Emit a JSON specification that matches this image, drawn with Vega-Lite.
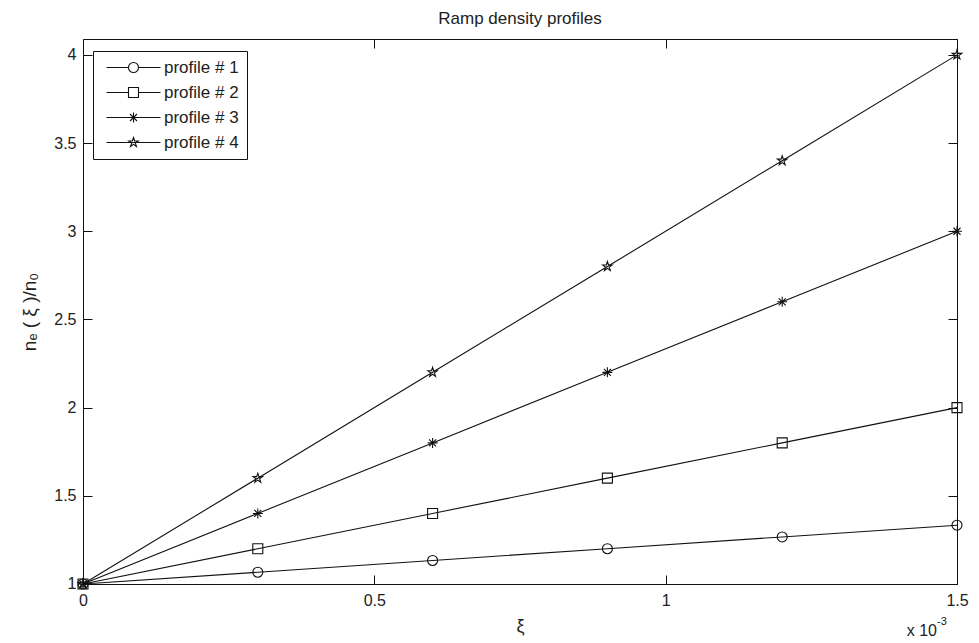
{
  "$schema": "https://vega.github.io/schema/vega-lite/v6.json",
  "autosize": "none",
  "width": 874,
  "height": 545,
  "padding": {"left": 83, "top": 39, "right": 22, "bottom": 59},
  "background": "white",
  "title": {
    "text": "Ramp density profiles",
    "fontSize": 17,
    "font": "Liberation Sans",
    "fontWeight": "normal",
    "color": "#222",
    "anchor": "middle",
    "offset": 11
  },
  "config": {
    "font": "Liberation Sans",
    "view": {"stroke": null},
    "axis": {
      "grid": false,
      "domainColor": "#111",
      "tickColor": "#111",
      "labelColor": "#222",
      "titleColor": "#222",
      "labelFont": "Liberation Sans",
      "titleFont": "Liberation Sans",
      "labelFontSize": 16,
      "titleFontSize": 17,
      "titleFontWeight": "normal",
      "tickSize": -9,
      "labelPadding": 8,
      "labelFlush": false,
      "labelOverlap": false,
      "labelBound": false
    }
  },
  "data": {
    "values": [
      {"profile": "profile # 1", "xi": 0.0, "n": 1.0},
      {"profile": "profile # 1", "xi": 0.3, "n": 1.0667},
      {"profile": "profile # 1", "xi": 0.6, "n": 1.1333},
      {"profile": "profile # 1", "xi": 0.9, "n": 1.2},
      {"profile": "profile # 1", "xi": 1.2, "n": 1.2667},
      {"profile": "profile # 1", "xi": 1.5, "n": 1.3333},
      {"profile": "profile # 2", "xi": 0.0, "n": 1.0},
      {"profile": "profile # 2", "xi": 0.3, "n": 1.2},
      {"profile": "profile # 2", "xi": 0.6, "n": 1.4},
      {"profile": "profile # 2", "xi": 0.9, "n": 1.6},
      {"profile": "profile # 2", "xi": 1.2, "n": 1.8},
      {"profile": "profile # 2", "xi": 1.5, "n": 2.0},
      {"profile": "profile # 3", "xi": 0.0, "n": 1.0},
      {"profile": "profile # 3", "xi": 0.3, "n": 1.4},
      {"profile": "profile # 3", "xi": 0.6, "n": 1.8},
      {"profile": "profile # 3", "xi": 0.9, "n": 2.2},
      {"profile": "profile # 3", "xi": 1.2, "n": 2.6},
      {"profile": "profile # 3", "xi": 1.5, "n": 3.0},
      {"profile": "profile # 4", "xi": 0.0, "n": 1.0},
      {"profile": "profile # 4", "xi": 0.3, "n": 1.6},
      {"profile": "profile # 4", "xi": 0.6, "n": 2.2},
      {"profile": "profile # 4", "xi": 0.9, "n": 2.8},
      {"profile": "profile # 4", "xi": 1.2, "n": 3.4},
      {"profile": "profile # 4", "xi": 1.5, "n": 4.0}
    ]
  },
  "layer": [
    {
      "mark": {"type": "line", "color": "#111", "strokeWidth": 1.1},
      "encoding": {
        "x": {
          "field": "xi",
          "type": "quantitative",
          "scale": {"domain": [0, 1.5], "nice": false, "zero": false},
          "axis": {
            "orient": "bottom",
            "values": [0, 0.5, 1, 1.5],
            "labelExpr": "datum.value == 0 ? '0' : datum.value == 1 ? '1' : format(datum.value, '.1f')",
            "labelPadding": 17,
            "title": "ξ",
            "titleFontSize": 18,
            "titlePadding": 9
          }
        },
        "y": {
          "field": "n",
          "type": "quantitative",
          "scale": {"domain": [0.9999, 4.09], "nice": false, "zero": false},
          "axis": {
            "orient": "left",
            "values": [1, 1.5, 2, 2.5, 3, 3.5, 4],
            "labelExpr": "datum.value == 1 ? '1' : datum.value % 1 == 0 ? format(datum.value, 'd') : format(datum.value, '.1f')",
            "labelPadding": 16,
            "title": "nₑ (  ξ  )/n₀",
            "titleFontSize": 19,
            "titlePadding": 14
          }
        },
        "detail": {"field": "profile"}
      }
    },
    {
      "mark": {"type": "point", "filled": false, "color": "#111", "strokeWidth": 1.1, "opacity": 1, "size": 100},
      "encoding": {
        "x": {
          "field": "xi",
          "type": "quantitative",
          "axis": {"orient": "top", "values": [0, 0.5, 1, 1.5], "labels": false, "title": null}
        },
        "y": {
          "field": "n",
          "type": "quantitative",
          "axis": {"orient": "right", "values": [1, 1.5, 2, 2.5, 3, 3.5, 4], "labels": false, "title": null}
        },
        "shape": {
          "field": "profile",
          "type": "nominal",
          "scale": {
            "domain": ["profile # 1", "profile # 2", "profile # 3", "profile # 4"],
            "range": [
              "circle",
              "square",
              "M0,-1V1M-1,0H1M-0.7,-0.7L0.7,0.7M-0.7,0.7L0.7,-0.7",
              "M0,-1L0.2245,-0.309L0.951,-0.309L0.363,0.118L0.588,0.809L0,0.382L-0.588,0.809L-0.363,0.118L-0.951,-0.309L-0.2245,-0.309Z"
            ]
          },
          "legend": null
        }
      }
    },
    {
      "mark": {"type": "point", "filled": false, "color": "#111", "strokeWidth": 1.1, "opacity": 0, "size": 100},
      "encoding": {
        "x": {"field": "xi", "type": "quantitative", "axis": null},
        "y": {"field": "n", "type": "quantitative", "axis": null},
        "shape": {
          "field": "profile",
          "type": "nominal",
          "scale": {
            "domain": ["profile # 1", "profile # 2", "profile # 3", "profile # 4"],
            "range": [
              "M-5.4,0H-1M1,0H5.4M1,0A1,1,0,1,1,-1,0A1,1,0,1,1,1,0",
              "M-5.4,0H-1M1,0H5.4M-1,-1H1V1H-1Z",
              "M-5.4,0H5.4M0,-1V1M-0.7,-0.7L0.7,0.7M-0.7,0.7L0.7,-0.7",
              "M-5.4,0H5.4M0,-1L0.2245,-0.309L0.951,-0.309L0.363,0.118L0.588,0.809L0,0.382L-0.588,0.809L-0.363,0.118L-0.951,-0.309L-0.2245,-0.309Z"
            ]
          },
          "legend": {
            "title": null,
            "orient": "none",
            "legendX": 10,
            "legendY": 12,
            "padding": 8,
            "strokeColor": "#111",
            "fillColor": "white",
            "symbolOpacity": 1,
            "symbolSize": 100,
            "symbolStrokeColor": "#111",
            "symbolFillColor": "transparent",
            "symbolStrokeWidth": 1.1,
            "symbolOffset": 24,
            "labelOffset": 22,
            "labelFont": "Liberation Sans",
            "labelFontSize": 17,
            "labelColor": "#222",
            "rowPadding": 7
          }
        }
      }
    },
    {
      "data": {"values": [{"xi": 1.5, "n": 1}]},
      "mark": {"type": "text", "text": "x 10", "align": "right", "baseline": "middle", "dx": -20, "dy": 47, "fontSize": 16, "color": "#222", "font": "Liberation Sans"},
      "encoding": {
        "x": {"field": "xi", "type": "quantitative", "axis": null},
        "y": {"field": "n", "type": "quantitative", "axis": null}
      }
    },
    {
      "data": {"values": [{"xi": 1.5, "n": 1}]},
      "mark": {"type": "text", "text": "-3", "align": "left", "baseline": "middle", "dx": -20, "dy": 38, "fontSize": 11, "color": "#222", "font": "Liberation Sans"},
      "encoding": {
        "x": {"field": "xi", "type": "quantitative", "axis": null},
        "y": {"field": "n", "type": "quantitative", "axis": null}
      }
    }
  ],
  "resolve": {
    "axis": {"x": "independent", "y": "independent"},
    "scale": {"shape": "independent"}
  }
}
